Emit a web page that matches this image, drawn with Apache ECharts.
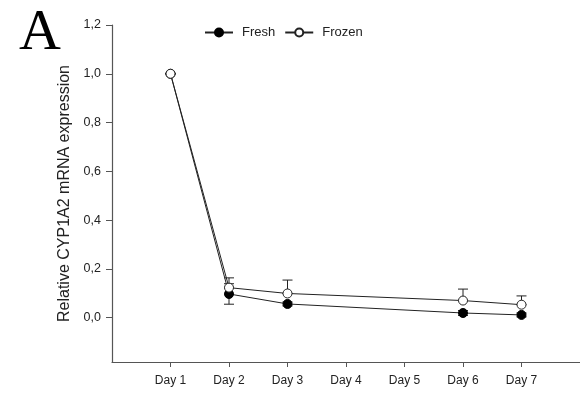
<!DOCTYPE html>
<html>
<head>
<meta charset="UTF-8">
<title>CYP1A2</title>
<script src="https://cdn.jsdelivr.net/npm/echarts@6/dist/echarts.min.js"></script>
<style>
  html, body { margin: 0; padding: 0; background: #fff; }
  #chart { width: 580px; height: 398px; }
</style>
</head>
<body>
<div id="chart"></div>
<script>
// days on the x axis
var days = [1, 2, 3, 6, 7];
var dayLabels = ['Day 1', 'Day 2', 'Day 3', 'Day 4', 'Day 5', 'Day 6', 'Day 7'];
var fresh = [1.0, 0.097, 0.056, 0.019, 0.011];
var freshErr = [0, 0.042, 0.008, 0.01, 0.008];
var frozen = [1.0, 0.123, 0.099, 0.070, 0.053];
var frozenErr = [0, 0.040, 0.055, 0.047, 0.036];
var yTicks = [0, 0.2, 0.4, 0.6, 0.8, 1.0, 1.2];

function pairs(vals) {
  return days.map(function (d, i) { return [d, vals[i]]; });
}

// error bars: fresh both ways, frozen upward only
var errData = [];
days.forEach(function (d, i) {
  errData.push([d, fresh[i] - freshErr[i], fresh[i] + freshErr[i]]);
  errData.push([d, frozen[i], frozen[i] + frozenErr[i]]);
});

var chart = echarts.init(document.getElementById('chart'));

var axisCol = '#555';
var font = 'Liberation Sans, Arial';
var option = {
  animation: false,
  grid: { left: 112, right: 0, top: 25, bottom: 36 },
  graphic: [{
    type: 'text', left: 19, top: 5,
    style: { text: 'A', font: '58px "Liberation Serif", serif', fill: '#000' }
  }],
  legend: {
    left: 199, top: 21,
    itemWidth: 28, itemHeight: 10, itemGap: 9,
    textStyle: { fontFamily: font, fontSize: 13, color: '#222', padding: [0, 0, 0, 4] },
    data: ['Fresh', 'Frozen']
  },
  xAxis: {
    type: 'value', min: 0, max: 8,
    splitLine: { show: false },
    axisLine: { onZero: false, lineStyle: { color: axisCol, width: 1.2 } },
    axisTick: { show: true, length: 5, lineStyle: { color: axisCol }, customValues: [1, 2, 3, 4, 5, 6, 7] },
    axisLabel: {
      customValues: [1, 2, 3, 4, 5, 6, 7],
      margin: 13, color: '#222', fontSize: 12, fontFamily: font,
      formatter: function (v) { return dayLabels[v - 1]; }
    }
  },
  yAxis: {
    type: 'value', min: -0.182, max: 1.2,
    name: 'Relative CYP1A2 mRNA expression',
    nameLocation: 'middle', nameGap: 38, nameRotate: 90,
    nameTextStyle: { fontFamily: font, fontSize: 16, color: '#222' },
    splitLine: { show: false },
    axisLine: { show: true, lineStyle: { color: axisCol, width: 1.2 } },
    axisTick: { show: true, length: 6, lineStyle: { color: axisCol }, customValues: yTicks },
    axisLabel: {
      customValues: yTicks,
      margin: 11, color: '#222', fontSize: 12.5, fontFamily: font,
      formatter: function (v) { return v.toFixed(1).replace('.', ','); }
    }
  },
  series: [
    {
      type: 'custom', name: 'err', silent: true, z: 1,
      data: errData,
      renderItem: function (params, api) {
        var x = api.value(0);
        var lo = api.coord([x, api.value(1)]);
        var hi = api.coord([x, api.value(2)]);
        var w = 5;
        return {
          type: 'group',
          children: [
            { type: 'line', shape: { x1: lo[0], y1: lo[1], x2: hi[0], y2: hi[1] }, style: { stroke: '#222', lineWidth: 1 } },
            { type: 'line', shape: { x1: hi[0] - w, y1: hi[1], x2: hi[0] + w, y2: hi[1] }, style: { stroke: '#222', lineWidth: 1 } },
            { type: 'line', shape: { x1: lo[0] - w, y1: lo[1], x2: lo[0] + w, y2: lo[1] }, style: { stroke: '#222', lineWidth: 1 } }
          ]
        };
      }
    },
    {
      type: 'line', name: 'Fresh', data: pairs(fresh), z: 3,
      symbol: 'circle', symbolSize: 9,
      lineStyle: { color: '#222', width: 1 },
      itemStyle: { color: '#000', borderColor: '#000', borderWidth: 1 }
    },
    {
      type: 'line', name: 'Frozen', data: pairs(frozen), z: 4,
      symbol: 'circle', symbolSize: 9,
      lineStyle: { color: '#222', width: 1 },
      itemStyle: { color: '#fff', borderColor: '#222', borderWidth: 1 }
    }
  ]
};

chart.setOption(option);
</script>
</body>
</html>
